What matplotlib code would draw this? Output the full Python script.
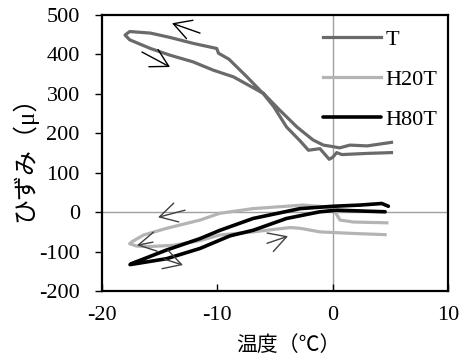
import matplotlib
matplotlib.use("Agg")
import matplotlib.pyplot as plt

# T: cooling branch (right -> left) then heating branch (left -> right)
t_temp = [5.1, 3.0, 0.8, 0.35, 0.0, -0.3, -1.1, -2.1, -2.8, -4.0, -5.1, -6.0,
          -7.5, -9.0, -9.9, -10.05, -12.1, -14.1, -15.8, -17.6, -18.0,
          -17.6, -15.8, -14.1, -12.1, -10.35, -8.6, -6.0, -4.6, -3.1, -1.7,
          -0.8, 0.05, 0.6, 1.5, 3.0, 5.1]
t_strain = [151, 149, 146, 151, 139, 134, 161, 157, 180, 216, 267, 300,
            345, 388, 403, 415, 428, 443, 454, 458, 449,
            437, 415, 398, 381, 360, 343, 301, 259, 216, 183,
            170, 166, 163, 170, 168, 177]

h20_temp = [4.7, 1.8, 0.64, 0.2, -0.5, -2.55, -6.9, -9.8, -11.5, -14.4,
            -16.4, -17.4, -17.6,
            -17.0, -15.8, -13.8, -11.5, -9.8, -6.9, -3.7, -2.8, -1.1, 1.8, 4.55]
h20_strain = [-27, -25, -20, 1, 13, 18, 9, -3, -20, -41,
              -58, -75, -80,
              -86, -87, -84, -72, -58, -50, -39, -41, -50, -54, -57]

h80_temp = [4.83, 4.26, 2.4, 0.06, -2.83, -6.9, -9.77, -11.5, -14.4, -17.4,
            -17.57, -14.4, -11.5, -8.9, -6.9, -4.0, -1.1, 0.35, 4.55]
h80_strain = [15, 22, 18, 15, 9, -16, -46, -67, -96, -130,
              -133, -118, -92, -60, -46, -16, 1, 5, 1]

serif = ["Liberation Serif", "Noto Sans CJK JP"]
plt.rcParams["font.family"] = serif
plt.rcParams["font.size"] = 16
plt.rcParams["axes.unicode_minus"] = False

fig = plt.figure(figsize=(4.64, 3.62), dpi=100)
ax = fig.add_axes([0.2198, 0.196, 0.7457, 0.7627])

ax.axhline(0, color="#a0a0a0", lw=1.0, zorder=1)
ax.axvline(0, color="#a0a0a0", lw=1.0, zorder=1)

ax.plot(t_temp, t_strain, color="#6a6a6a", lw=2.3, label="T", zorder=3)
ax.plot(h20_temp, h20_strain, color="#b4b4b4", lw=2.3, label="H20T", zorder=3)
ax.plot(h80_temp, h80_strain, color="black", lw=2.6, label="H80T", zorder=4,
        solid_capstyle="round")

# direction arrows (tail, head, colour)
arrows = [((-11.5, 454), (-13.93, 479), "black"),
          ((-16.53, 406), (-14.10, 368), "black"),
          ((-12.8, 5), (-15.14, -13), "#404040"),
          ((-15.58, -76), (-16.97, -84), "#404040"),
          ((-14.62, -119), (-12.98, -134), "#404040"),
          ((-5.69, -79), (-3.87, -61), "#404040")]
for tail, head, c in arrows:
    ax.annotate("", xy=head, xytext=tail,
                arrowprops=dict(arrowstyle="->,head_length=1.25,head_width=0.7",
                                color=c, lw=1.0, shrinkA=0, shrinkB=0,
                                mutation_scale=10),
                zorder=5)

ax.set_xlim(-20, 10)
ax.set_ylim(-200, 500)
ax.set_xticks([-20, -10, 0, 10])
ax.set_yticks(range(-200, 501, 100))
ax.tick_params(axis="x", direction="in", length=5, width=1, pad=11)
ax.tick_params(axis="y", direction="out", length=5, width=1, pad=11)
for s in ax.spines.values():
    s.set_linewidth(1.6)

ax.set_xlabel("温度（℃）", fontsize=15)
ax.xaxis.set_label_coords(0.54, -0.165)
ax.set_ylabel("ひずみ（μ）", fontsize=18, labelpad=1)

ax.legend(loc="upper left", bbox_to_anchor=(0.614, 0.98), frameon=False,
          handlelength=2.6, handletextpad=0.2, labelspacing=0.88,
          borderaxespad=0, fontsize=16)

fig.savefig("out.png", dpi=100)
